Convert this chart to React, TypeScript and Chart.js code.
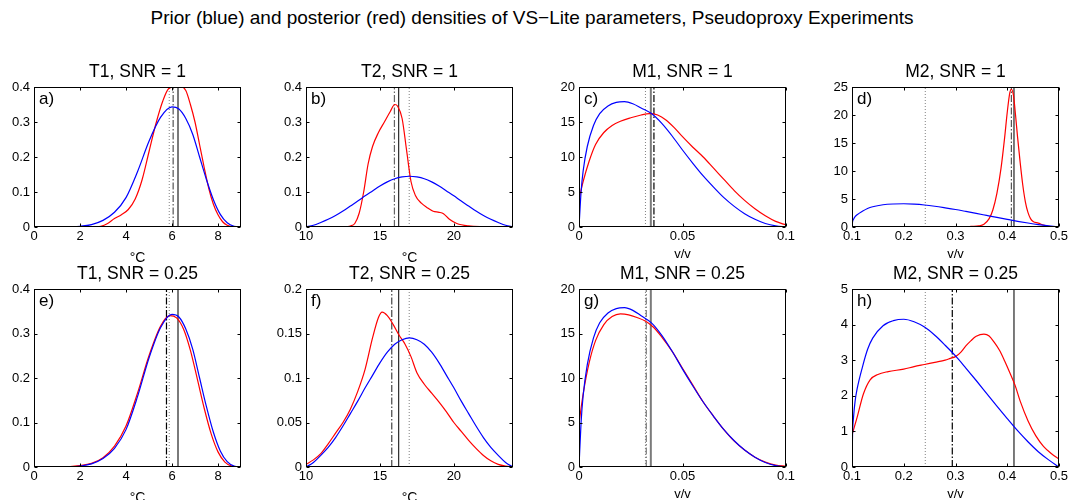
import React, { useEffect, useRef } from 'react';
import { Chart, registerables } from 'chart.js';
Chart.register(...registerables);

const FONT = '"Liberation Sans", Arial, Helvetica, sans-serif';

// ---------- data ----------
const mainTitle = 'Prior (blue) and posterior (red) densities of VS\u2212Lite parameters, Pseudoproxy Experiments';
const panelTitles = ['T1, SNR = 1', 'T2, SNR = 1', 'M1, SNR = 1', 'M2, SNR = 1', 'T1, SNR = 0.25', 'T2, SNR = 0.25', 'M1, SNR = 0.25', 'M2, SNR = 0.25'];
const panelLetters = ['a)', 'b)', 'c)', 'd)', 'e)', 'f)', 'g)', 'h)'];
const xLabels = ['\u00B0C', '\u00B0C', 'v/v', 'v/v'];

// priors (shared between SNR rows)
const t1PriorX = [0, 1.5, 2, 2.5, 3, 3.5, 4, 4.5, 5, 5.5, 6, 6.3, 6.6, 6.9, 7.2, 7.5, 7.8, 8.1, 8.4, 8.7, 9];
const t1PriorY = [0, 0, 0.002, 0.007, 0.019, 0.042, 0.084, 0.158, 0.245, 0.313, 0.343, 0.337, 0.31, 0.265, 0.2, 0.135, 0.078, 0.036, 0.012, 0.002, 0];
const t2PriorX = [10, 10.5, 11, 11.5, 12, 12.5, 13, 13.5, 14, 14.5, 15, 15.5, 16, 16.5, 17, 17.5, 18, 18.5, 19, 19.5, 20, 20.5, 21, 21.5, 22, 22.5, 23, 23.5, 24];
const t2PriorY = [0, 0.005, 0.013, 0.022, 0.033, 0.046, 0.06, 0.074, 0.089, 0.103, 0.117, 0.129, 0.138, 0.143, 0.145, 0.143, 0.138, 0.129, 0.117, 0.103, 0.089, 0.074, 0.06, 0.046, 0.033, 0.022, 0.013, 0.005, 0];
const m1PriorX = [0, 0.001, 0.002, 0.004, 0.007, 0.01, 0.014, 0.018, 0.022, 0.026, 0.03, 0.035, 0.04, 0.045, 0.05, 0.055, 0.06, 0.065, 0.07, 0.075, 0.08, 0.085, 0.09, 0.095, 0.1];
const m1PriorY = [0, 5, 8, 11.5, 14.5, 16.2, 17.3, 17.8, 17.9, 17.6, 17.0, 16.2, 14.8, 13.0, 11.0, 9.1, 7.3, 5.7, 4.2, 2.95, 1.9, 1.1, 0.5, 0.15, 0];
const m2PriorX = [0.1, 0.101, 0.103, 0.106, 0.11, 0.12, 0.13, 0.14, 0.16, 0.18, 0.2, 0.22, 0.24, 0.26, 0.28, 0.3, 0.32, 0.34, 0.36, 0.38, 0.4, 0.42, 0.44, 0.46, 0.48, 0.5];
const m2PriorY = [0, 0.9, 1.4, 1.85, 2.2, 2.8, 3.3, 3.62, 3.97, 4.11, 4.15, 4.08, 3.93, 3.7, 3.42, 3.12, 2.78, 2.43, 2.07, 1.71, 1.36, 1.02, 0.71, 0.43, 0.2, 0];

// posteriors
const t1PostAX = [0, 2.6, 2.9, 3.2, 3.5, 3.8, 4.1, 4.4, 4.7, 5, 5.3, 5.6, 5.85, 6.1, 6.4, 6.6, 6.8, 7, 7.2, 7.4, 7.6, 7.8, 8, 8.2, 8.4, 8.6, 9];
const t1PostAY = [0, 0, 0.002, 0.01, 0.024, 0.035, 0.05, 0.08, 0.135, 0.215, 0.295, 0.36, 0.395, 0.4, 0.4, 0.39, 0.35, 0.3, 0.235, 0.17, 0.11, 0.065, 0.035, 0.015, 0.005, 0.001, 0];
const t2PostBX = [10, 12.5, 13, 13.3, 13.6, 13.9, 14.2, 14.5, 14.9, 15.3, 15.7, 16, 16.2, 16.5, 16.8, 17.1, 17.4, 17.8, 18.2, 18.6, 19, 19.3, 19.7, 20.2, 21, 22, 24];
const t2PostBY = [0, 0, 0.003, 0.01, 0.04, 0.1, 0.18, 0.23, 0.27, 0.3, 0.33, 0.35, 0.345, 0.31, 0.22, 0.13, 0.09, 0.068, 0.055, 0.045, 0.042, 0.038, 0.022, 0.01, 0.003, 0.001, 0];
const m1PostCX = [0, 0.002, 0.005, 0.008, 0.012, 0.016, 0.02, 0.025, 0.03, 0.034, 0.038, 0.042, 0.046, 0.05, 0.055, 0.06, 0.065, 0.07, 0.075, 0.08, 0.085, 0.09, 0.095, 0.1];
const m1PostCY = [4.0, 6.5, 9.5, 11.8, 13.5, 14.5, 15.1, 15.6, 16.0, 16.2, 16.0, 15.3, 14.2, 12.9, 11.4, 10.0, 8.4, 6.8, 5.2, 3.8, 2.6, 1.6, 0.8, 0.3];
const m2PostDX = [0.32, 0.33, 0.345, 0.355, 0.365, 0.372, 0.38, 0.388, 0.395, 0.4, 0.405, 0.408, 0.412, 0.416, 0.42, 0.425, 0.43, 0.435, 0.44, 0.445, 0.45, 0.46, 0.47, 0.48, 0.49];
const m2PostDY = [0, 0.1, 0.2, 0.5, 1.5, 3, 6, 10.5, 16, 20.5, 24, 24.6, 23.5, 20, 16, 11.5, 7.5, 4.5, 2.6, 1.5, 1.0, 0.7, 0.35, 0.1, 0];
const t1PostEX = [1.25, 1.5, 2, 2.5, 3, 3.5, 4, 4.5, 5, 5.5, 5.9, 6.2, 6.5, 6.8, 7.1, 7.4, 7.7, 8, 8.3, 8.6, 9];
const t1PostEY = [0, 0.001, 0.003, 0.008, 0.021, 0.047, 0.092, 0.166, 0.25, 0.316, 0.34, 0.335, 0.31, 0.262, 0.198, 0.132, 0.075, 0.034, 0.011, 0.002, 0];
const t2PostFX = [10, 10.5, 11, 11.5, 12, 12.5, 13, 13.5, 14, 14.5, 14.9, 15.15, 15.5, 15.9, 16.3, 16.7, 17.1, 17.5, 18, 18.5, 19, 19.5, 20, 20.5, 21, 21.5, 22, 22.5, 23, 23.5, 24];
const t2PostFY = [0.003, 0.008, 0.015, 0.026, 0.038, 0.05, 0.065, 0.085, 0.11, 0.145, 0.168, 0.174, 0.17, 0.16, 0.148, 0.138, 0.124, 0.106, 0.093, 0.083, 0.073, 0.062, 0.05, 0.04, 0.03, 0.021, 0.013, 0.007, 0.003, 0.001, 0];
const m1PostGX = [0, 0.002, 0.005, 0.008, 0.012, 0.016, 0.02, 0.024, 0.028, 0.032, 0.036, 0.04, 0.045, 0.05, 0.055, 0.06, 0.065, 0.07, 0.075, 0.08, 0.085, 0.09, 0.095, 0.1];
const m1PostGY = [4.9, 8.2, 11.8, 14.2, 16.0, 16.9, 17.2, 17.1, 16.8, 16.4, 15.7, 14.6, 13.0, 11.1, 9.2, 7.3, 5.7, 4.2, 2.9, 1.9, 1.1, 0.55, 0.22, 0.1];
const m2PostHX = [0.1, 0.11, 0.122, 0.135, 0.15, 0.17, 0.2, 0.22, 0.24, 0.26, 0.28, 0.29, 0.3, 0.31, 0.32, 0.33, 0.34, 0.355, 0.365, 0.375, 0.385, 0.395, 0.405, 0.415, 0.425, 0.44, 0.455, 0.47, 0.485, 0.5];
const m2PostHY = [0.9, 1.4, 2.05, 2.45, 2.6, 2.68, 2.75, 2.82, 2.88, 2.94, 3.0, 3.05, 3.1, 3.22, 3.4, 3.55, 3.67, 3.73, 3.68, 3.5, 3.28, 2.98, 2.65, 2.3, 1.85, 1.3, 0.88, 0.58, 0.38, 0.22];

// vertical reference lines: true value, prior median, posterior medians (SNR 1 / SNR 0.25)
const trueValues = [6.26, 16.27, 0.0347, 0.413];
const priorMedians = [5.88, 16.98, 0.0321, 0.2416];
const postMediansSnr1 = [6.05, 15.98, 0.0362, 0.408];
const postMediansSnr025 = [5.76, 15.8, 0.0325, 0.2938];

// axes
const xMins = [0, 10, 0, 0.1];
const xMaxs = [9, 24, 0.1, 0.5];
const xSteps = [2, 5, 0.05, 0.1];
const yMaxsSnr1 = [0.4, 0.4, 20, 25];
const yStepsSnr1 = [0.1, 0.1, 5, 5];
const yMaxsSnr025 = [0.4, 0.2, 20, 5];
const yStepsSnr025 = [0.1, 0.05, 5, 1];

// ---------- layout / style ----------
const COL_LEFT = [34, 306, 579, 852];
const PLOT_W = 207;
const ROW_TOP = [87, 289];
const ROW_H = [140, 178];
const PAD_L = 45, PAD_T = 35, PAD_R = 15, PAD_B = 45;

const solidStyle = [
  { color: '#7a7a7a', width: 2 },
  { color: '#000000', width: 1 },
  { color: '#7a7a7a', width: 2 },
  { color: '#222222', width: 1.2 },
];
const medianColorsSnr1 = ['#555555', '#666666', '#000000', '#555555'];
const medianColorsSnr025 = ['#000000', '#444444', '#777777', '#000000'];

const pts = (xs: number[], ys: number[]) => xs.map((x, i) => ({ x, y: ys[i] }));
const fmt = (v: number) => String(parseFloat(Number(v).toFixed(4)));

type Spec = {
  idx: number;
  col: number;
  row: number;
  priorX: number[]; priorY: number[];
  postX: number[]; postY: number[];
  yMax: number; yStep: number;
  median: number; medianColor: string;
};

function Panel({ spec }: { spec: Spec }) {
  const ref = useRef<HTMLCanvasElement>(null);
  const left = COL_LEFT[spec.col];
  const top = ROW_TOP[spec.row];
  const H = ROW_H[spec.row];
  const W = PLOT_W;
  useEffect(() => {
    const c = spec.col;
    const vline = (v: number, color: string, width: number, dash: number[]) => ({
      data: [{ x: v, y: 0 }, { x: v, y: spec.yMax }],
      borderColor: color, borderWidth: width, borderDash: dash, pointRadius: 0, tension: 0,
    });
    const deco = {
      id: 'deco' + spec.idx,
      afterDraw(chart: any) {
        const { ctx, chartArea: a, scales } = chart;
        const xs = scales.x, ys = scales.y;
        ctx.save();
        ctx.strokeStyle = '#000';
        ctx.lineWidth = 1;
        const L = Math.round(a.left) + 0.5, R = Math.round(a.right) - 0.5;
        const T = Math.round(a.top) + 0.5, B = Math.round(a.bottom) - 0.5;
        ctx.strokeRect(L, T, R - L, B - T);
        ctx.beginPath();
        xs.ticks.forEach((t: any) => {
          const px = Math.round(xs.getPixelForValue(t.value)) + 0.5;
          ctx.moveTo(px, B); ctx.lineTo(px, B - 3);
          ctx.moveTo(px, T); ctx.lineTo(px, T + 3);
        });
        ys.ticks.forEach((t: any) => {
          const py = Math.round(ys.getPixelForValue(t.value)) + 0.5;
          ctx.moveTo(L, py); ctx.lineTo(L + 3, py);
          ctx.moveTo(R, py); ctx.lineTo(R - 3, py);
        });
        ctx.stroke();
        ctx.fillStyle = '#000';
        ctx.textBaseline = 'alphabetic';
        ctx.textAlign = 'center';
        ctx.font = `17.5px ${FONT}`;
        ctx.fillText(panelTitles[spec.idx], (a.left + a.right) / 2, a.top - 10.5);
        ctx.textAlign = 'left';
        ctx.font = `17px ${FONT}`;
        ctx.fillText(panelLetters[spec.idx], a.left + 5, a.top + 17);
        ctx.textAlign = 'center';
        if (c < 2) {
          ctx.font = `14px ${FONT}`;
          ctx.fillText(xLabels[c], (a.left + a.right) / 2, a.bottom + 35);
        } else {
          ctx.font = `13px ${FONT}`;
          ctx.fillText(xLabels[c], (a.left + a.right) / 2, a.bottom + 31);
        }
        ctx.restore();
      },
    };
    const tickFont = { family: FONT, size: 13 };
    const chart = new Chart(ref.current as HTMLCanvasElement, {
      type: 'line',
      data: {
        datasets: [
          { data: pts(spec.priorX, spec.priorY), borderColor: '#0000ff', borderWidth: 1.2, pointRadius: 0, cubicInterpolationMode: 'monotone' },
          { data: pts(spec.postX, spec.postY), borderColor: '#ff0000', borderWidth: 1.2, pointRadius: 0, cubicInterpolationMode: 'monotone' },
          vline(priorMedians[c], '#808080', 1, [1, 2]),
          vline(spec.median, spec.medianColor, 1.2, [7, 2, 1.5, 2]),
          vline(trueValues[c], solidStyle[c].color, solidStyle[c].width, []),
        ] as any,
      },
      options: {
        responsive: false,
        maintainAspectRatio: false,
        animation: false,
        layout: { padding: { top: PAD_T, right: PAD_R, left: 0, bottom: 0 } },
        plugins: { legend: { display: false }, tooltip: { enabled: false }, title: { display: false } },
        scales: {
          x: {
            type: 'linear', min: xMins[c], max: xMaxs[c],
            afterFit: (s: any) => { s.height = PAD_B; },
            ticks: { stepSize: xSteps[c], includeBounds: false, padding: 2, font: tickFont, color: '#000', maxRotation: 0, autoSkip: false, callback: (v: any) => fmt(v) },
            grid: { display: false, drawTicks: false },
            border: { display: false },
          },
          y: {
            type: 'linear', min: 0, max: spec.yMax,
            afterFit: (s: any) => { s.width = PAD_L; },
            ticks: { stepSize: spec.yStep, includeBounds: false, padding: 4, font: tickFont, color: '#000', autoSkip: false, callback: (v: any) => fmt(v) },
            grid: { display: false, drawTicks: false },
            border: { display: false },
          },
        },
      } as any,
      plugins: [deco],
    });
    return () => chart.destroy();
  }, []);
  return (
    <canvas
      ref={ref}
      width={W + PAD_L + PAD_R}
      height={H + PAD_T + PAD_B}
      style={{ position: 'absolute', left: left - PAD_L, top: top - PAD_T, width: W + PAD_L + PAD_R, height: H + PAD_T + PAD_B }}
    />
  );
}

const priorXs = [t1PriorX, t2PriorX, m1PriorX, m2PriorX];
const priorYs = [t1PriorY, t2PriorY, m1PriorY, m2PriorY];
const postXs = [t1PostAX, t2PostBX, m1PostCX, m2PostDX, t1PostEX, t2PostFX, m1PostGX, m2PostHX];
const postYs = [t1PostAY, t2PostBY, m1PostCY, m2PostDY, t1PostEY, t2PostFY, m1PostGY, m2PostHY];

export default function App() {
  const specs: Spec[] = [];
  for (let i = 0; i < 8; i++) {
    const row = i < 4 ? 0 : 1;
    const col = i % 4;
    specs.push({
      idx: i, col, row,
      priorX: priorXs[col], priorY: priorYs[col],
      postX: postXs[i], postY: postYs[i],
      yMax: row === 0 ? yMaxsSnr1[col] : yMaxsSnr025[col],
      yStep: row === 0 ? yStepsSnr1[col] : yStepsSnr025[col],
      median: row === 0 ? postMediansSnr1[col] : postMediansSnr025[col],
      medianColor: row === 0 ? medianColorsSnr1[col] : medianColorsSnr025[col],
    });
  }
  return (
    <div style={{ position: 'absolute', left: 0, top: 0, width: 1068, height: 500, overflow: 'hidden', background: '#fff' }}>
      <div style={{ position: 'absolute', left: 0, top: 6, width: 1064, textAlign: 'center', font: `19px ${FONT}`, lineHeight: '24px', color: '#000', whiteSpace: 'nowrap' }}>
        {mainTitle}
      </div>
      {specs.map((s) => <Panel key={s.idx} spec={s} />)}
    </div>
  );
}
